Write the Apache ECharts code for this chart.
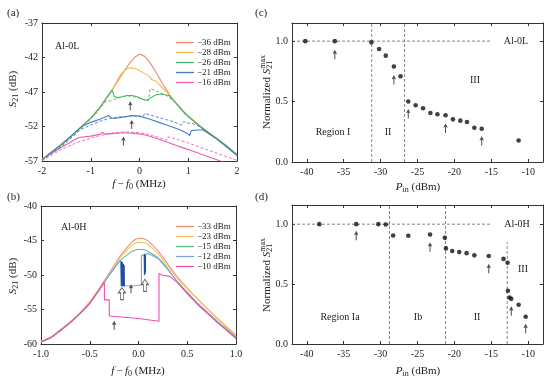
<!DOCTYPE html>
<html>
<head>
<meta charset="utf-8">
<script src="https://cdn.jsdelivr.net/npm/echarts@6/dist/echarts.min.js"></script>
<style>
  html, body { margin: 0; background: #fff; }
  #chart { width: 556px; height: 382px; }
</style>
</head>
<body>
<div id="chart"></div>
<script>
// ---- panel (a): Al-0L transmission, forward (solid) and reverse (dashed) sweeps
const f36 = [-2,-1.8,-1.6,-1.4,-1.2,-1.0,-0.9,-0.8,-0.7,-0.6,-0.5,-0.4,-0.3,-0.2,-0.1,0,0.1,0.2,0.3,0.4,0.5,0.6,0.7,0.8,0.9,1.0,1.2,1.4,1.6,1.8,2.0];
const s36 = [-56.8,-55.7,-54.6,-53.4,-52.1,-50.8,-50.0,-49.1,-48.1,-47.1,-46.0,-44.9,-43.8,-42.8,-42.0,-41.5,-41.8,-42.6,-43.7,-44.9,-46.1,-47.2,-48.2,-49.1,-49.9,-50.6,-51.8,-52.9,-53.9,-55.0,-56.2];
const f28 = [-2,-1.8,-1.6,-1.4,-1.2,-1.0,-0.9,-0.8,-0.7,-0.6,-0.5,-0.4,-0.3,-0.2,-0.1,0,0.1,0.2,0.25,0.33,0.4,0.5,0.6,0.7,0.8,0.9,1.0,1.2,1.4,1.6,1.8,2.0];
const s28 = [-56.8,-55.7,-54.6,-53.4,-52.1,-50.8,-50.0,-49.1,-48.1,-47.1,-45.9,-44.6,-43.8,-43.5,-43.6,-43.9,-44.3,-44.7,-45.2,-45.4,-45.9,-46.6,-47.3,-48.2,-49.0,-49.8,-50.5,-51.7,-52.8,-53.8,-54.9,-56.1];
const f26 = [-2,-1.8,-1.6,-1.4,-1.2,-1.0,-0.9,-0.8,-0.7,-0.6,-0.56,-0.52,-0.45,-0.35,-0.25,-0.15,-0.05,0.05,0.12,0.2,0.28,0.35,0.45,0.52,0.6,0.7,0.8,0.9,1.0,1.2,1.4,1.6,1.8,2.0];
const s26 = [-56.8,-55.7,-54.6,-53.4,-52.1,-50.8,-50.0,-49.1,-48.1,-47.1,-46.75,-47.6,-47.8,-47.7,-47.5,-47.5,-47.7,-48.0,-48.2,-48.0,-47.6,-47.4,-47.3,-47.4,-47.5,-48.2,-49.0,-49.8,-50.5,-51.7,-52.8,-53.8,-54.9,-56.1];
const f26r = [-2,-1.6,-1.2,-0.9,-0.7,-0.6,-0.5,-0.4,-0.3,-0.2,-0.1,0,0.1,0.18,0.22,0.3,0.4,0.48,0.55,0.7,0.9,1.2,1.6,2.0];
const s26r = [-56.9,-54.8,-52.3,-50.2,-48.4,-48.3,-48.0,-47.8,-47.6,-47.6,-47.7,-47.9,-48.1,-48.3,-46.5,-46.7,-47.0,-47.3,-47.5,-48.3,-49.9,-51.8,-53.9,-56.2];
const f21 = [-2,-1.6,-1.2,-1.15,-1.0,-0.8,-0.63,-0.58,-0.5,-0.3,-0.15,0,0.2,0.4,0.6,0.84,0.98,1.03,1.06,1.2,1.3,1.4,1.6,1.8,2.0];
const s21 = [-56.8,-54.6,-52.1,-51.9,-51.4,-50.9,-50.4,-50.8,-50.8,-50.6,-50.4,-50.5,-50.9,-51.4,-51.9,-52.5,-53.0,-53.3,-52.6,-52.5,-52.5,-52.9,-53.9,-55.0,-56.2];
const f21r = [-2,-1.6,-1.2,-1.0,-0.8,-0.6,-0.4,-0.2,0,0.08,0.1,0.3,0.5,0.7,0.86,0.9,1.0,1.1,1.2,1.4,1.6,1.8,2.0];
const s21r = [-56.9,-54.9,-52.4,-51.8,-51.2,-50.8,-50.6,-50.5,-50.5,-50.6,-50.1,-50.5,-50.9,-51.3,-51.8,-51.3,-51.5,-51.6,-51.9,-52.9,-53.9,-55.0,-56.2];
const f16 = [-2,-1.8,-1.6,-1.4,-1.25,-1.22,-1.0,-0.8,-0.76,-0.72,-0.5,-0.3,-0.1,0.1,0.3,0.5,0.7,0.9,1.1,1.3,1.5,1.7,2.0];
const s16 = [-56.8,-55.9,-55.0,-54.2,-53.6,-53.8,-53.4,-53.1,-52.8,-53.1,-53.0,-52.9,-53.0,-53.2,-53.6,-54.1,-54.6,-55.1,-55.6,-56.1,-56.6,-57.1,-57.8];
const f16r = [-2,-1.6,-1.2,-0.8,-0.6,-0.4,-0.2,0,0.2,0.4,0.56,0.58,0.8,1.0,1.2,1.4,1.6,1.8,2.0];
const s16r = [-57.0,-55.3,-54.1,-53.3,-53.0,-52.8,-52.8,-52.9,-53.2,-53.6,-54.0,-53.5,-53.9,-54.4,-54.9,-55.4,-55.9,-56.4,-56.9];
const arrowsA = [[-0.19, -49.0], [-0.16, -51.7], [-0.33, -54.1]];

// ---- panel (b): Al-0H transmission
const fB = [-1.0,-0.9,-0.8,-0.7,-0.6,-0.5,-0.4,-0.3,-0.2,-0.1,-0.05,0,0.05,0.1,0.2,0.3,0.4,0.5,0.6,0.7,0.8,0.9,1.0];
const b33 = [-59.6,-59.0,-57.9,-56.8,-55.5,-53.9,-51.9,-49.7,-47.5,-45.7,-45.0,-44.7,-44.7,-45.1,-46.5,-48.4,-50.3,-51.9,-53.4,-54.8,-56.2,-57.5,-58.8];
const b23 = [-59.6,-59.0,-57.9,-56.8,-55.5,-53.9,-52.0,-49.8,-47.7,-46.1,-45.5,-45.3,-45.3,-45.6,-46.9,-48.7,-50.5,-52.0,-53.4,-54.8,-56.1,-57.4,-58.7];
const b15 = [-59.7,-59.1,-58.0,-56.9,-55.6,-54.1,-52.1,-50.0,-48.1,-46.9,-46.5,-46.3,-46.3,-46.6,-47.5,-49.1,-51.0,-52.5,-54.0,-55.3,-56.6,-57.8,-59.0];
const fB12 = [-1.0,-0.9,-0.8,-0.7,-0.6,-0.5,-0.4,-0.3,-0.2,-0.185,-0.178,-0.14,-0.05,0.03,0.03,0.06,0.1,0.2,0.3,0.4,0.5,0.6,0.7,0.8,0.9,1.0];
const b12 = [-59.7,-59.1,-58.0,-56.9,-55.6,-54.1,-52.1,-50.0,-48.1,-47.8,-51.6,-51.6,-51.55,-51.45,-47.2,-47.0,-46.9,-47.6,-49.2,-51.0,-52.6,-54.1,-55.4,-56.7,-57.9,-59.1];
const fBandL = [-0.178,-0.175,-0.172,-0.168,-0.164,-0.16,-0.156,-0.152,-0.148,-0.144];
const sBandL = [-48.0,-51.5,-48.1,-51.6,-48.2,-51.6,-48.4,-51.6,-48.6,-51.6];
const fBandR = [0.058,0.061,0.064,0.067,0.07,0.073];
const sBandR = [-47.1,-50.0,-47.0,-49.8,-47.1,-49.6];
const fB10 = [-1.0,-0.9,-0.8,-0.7,-0.6,-0.5,-0.4,-0.35,-0.35,-0.30,-0.30,0.0,0.21,0.21,0.24,0.32,0.4,0.5,0.6,0.7,0.8,0.9,1.0];
const b10 = [-59.7,-59.1,-58.1,-56.9,-55.6,-54.1,-52.1,-51.0,-53.6,-53.6,-55.95,-56.3,-56.7,-49.8,-50.0,-50.2,-51.1,-52.7,-54.2,-55.5,-56.8,-58.0,-59.2];
const arrowsB = [[-0.077, -52.0], [-0.25, -57.3]];
const hollowB = [[-0.17, -52.7], [0.066, -51.5]];

// ---- panel (c): normalized S21 max vs input power, Al-0L
const pinC = [-40.2,-36.2,-31.25,-30.2,-29.3,-28.2,-27.3,-26.25,-25.25,-24.25,-23.25,-22.3,-21.2,-20.2,-19.2,-18.3,-17.3,-16.3,-11.3];
const normC = [1.0,1.0,0.99,0.935,0.88,0.79,0.71,0.50,0.47,0.445,0.405,0.395,0.387,0.353,0.342,0.331,0.283,0.275,0.178];
const boundsC = [-31.2, -26.75];
const unityEndC = -15;
const arrowsC = [[-36.2, 0.89], [-28.2, 0.68], [-26.25, 0.40], [-21.2, 0.28], [-16.3, 0.175]];

// ---- panel (d): Al-0H
const pinD = [-38.3,-33.3,-30.3,-29.3,-28.3,-26.25,-23.3,-21.3,-21.15,-20.3,-19.35,-18.35,-17.3,-15.35,-13.35,-12.8,-12.75,-12.55,-12.3,-11.3,-10.35];
const normD = [1.0,1.0,1.0,0.997,0.906,0.903,0.914,0.886,0.798,0.776,0.767,0.758,0.74,0.734,0.71,0.678,0.444,0.388,0.377,0.327,0.227];
const boundsD = [-28.8, -21.2, -12.85];
const boundTopsD = [1.16, 1.16, 0.85];
const unityEndD = -15.1;
const arrowsD = [[-33.3, 0.905], [-23.3, 0.81], [-15.35, 0.63], [-12.3, 0.275], [-10.35, 0.13]];

const legendA = ['\u221236 dBm', '\u221228 dBm', '\u221226 dBm', '\u221221 dBm', '\u221216 dBm'];
const legendB = ['\u221233 dBm', '\u221223 dBm', '\u221215 dBm', '\u221212 dBm', '\u221210 dBm'];
const pinTicks = [-40, -35, -30, -25, -20, -15, -10];
const normTicks = [0, 0.5, 1.0];

const FONT = '"Liberation Serif", "Times New Roman", serif';
const INK = '#222';
const AXIS = '#333';
const ARROW = 'path://M2,0 L4,4.6 L2.45,3.9 L2.45,10 L1.55,10 L1.55,3.9 L0,4.6 Z';
const HOLLOW = 'path://M5,0 L10,6 L7,6 L7,14 L3,14 L3,6 L0,6 Z';

const xy = (xs, ys) => xs.map((x, i) => [x, ys[i]]);

function xPair(gi, min, max, interval, fmt, custom) {
  const tick = { inside: true, length: 3, lineStyle: { color: AXIS } };
  const lab = { color: INK, fontFamily: FONT, fontSize: 10, margin: 5 };
  if (fmt) lab.formatter = fmt;
  if (custom) { tick.customValues = custom; lab.customValues = custom; }
  const base = { gridIndex: gi, type: 'value', min, max, splitLine: { show: false },
    axisLine: { onZero: false, lineStyle: { color: AXIS, width: 1 } } };
  if (interval) base.interval = interval;
  return [
    Object.assign({}, base, { position: 'bottom', axisTick: tick, axisLabel: lab }),
    Object.assign({}, base, { position: 'top', axisTick: tick, axisLabel: { show: false } })
  ];
}
function yPair(gi, min, max, interval, fmt, custom) {
  const tick = { inside: true, length: 3, lineStyle: { color: AXIS } };
  const lab = { color: INK, fontFamily: FONT, fontSize: 10, margin: 4 };
  if (fmt) lab.formatter = fmt;
  if (custom) { tick.customValues = custom; lab.customValues = custom; }
  const base = { gridIndex: gi, type: 'value', min, max, splitLine: { show: false },
    axisLine: { onZero: false, lineStyle: { color: AXIS, width: 1 } } };
  if (interval) base.interval = interval;
  return [
    Object.assign({}, base, { position: 'left', axisTick: tick, axisLabel: lab }),
    Object.assign({}, base, { position: 'right', axisTick: tick, axisLabel: { show: false } })
  ];
}

function line(name, gi, xs, ys, color, opt) {
  opt = opt || {};
  return {
    name, type: 'line', xAxisIndex: gi * 2, yAxisIndex: gi * 2,
    data: xy(xs, ys), symbol: 'none', smooth: opt.smooth || false,
    lineStyle: { color, width: opt.width || (opt.dashed ? 0.9 : 1.1), type: opt.dashed ? [3, 2] : 'solid' },
    itemStyle: { color }, z: opt.z || 3, silent: true
  };
}
function guide(gi, pts) {
  return { type: 'line', xAxisIndex: gi * 2, yAxisIndex: gi * 2, data: pts, symbol: 'none',
    lineStyle: { color: '#666', width: 0.8, type: [3, 2] }, z: 1, silent: true };
}
function arrows(gi, pts, size) {
  return { type: 'scatter', xAxisIndex: gi * 2, yAxisIndex: gi * 2, data: pts, symbol: ARROW,
    symbolSize: size, itemStyle: { color: '#222' }, z: 6, silent: true };
}
function dots(gi, xs, ys) {
  return { type: 'scatter', xAxisIndex: gi * 2, yAxisIndex: gi * 2, data: xy(xs, ys), symbol: 'circle',
    symbolSize: 4.6, itemStyle: { color: '#111' }, z: 5, silent: true };
}

// text with italic / sub / superscript pieces
const ctx2d = document.createElement('canvas').getContext('2d');
function label(cx, cy, parts, size, rot) {
  let x = 0, maxR = 0;
  const kids = [];
  for (const p of parts) {
    const fs = (p.sub || p.sup) ? Math.round(size * 0.7) : size;
    const font = (p.it ? 'italic ' : '') + fs + 'px ' + FONT;
    ctx2d.font = font;
    const w = ctx2d.measureText(p.t).width;
    const dy = p.sub ? size * 0.3 : p.sup ? -size * 0.38 : 0;
    kids.push({ type: 'text', x: x, y: dy, style: { text: p.t, font, fill: INK, align: 'left', verticalAlign: 'middle' } });
    maxR = Math.max(maxR, x + w);
    if (!p.hold) x += w;
  }
  kids.forEach(k => { k.x -= maxR / 2; });
  return { type: 'group', x: cx, y: cy, rotation: rot || 0, children: kids, silent: true };
}
function plain(x, y, t, size, align) {
  return { type: 'text', x, y, silent: true,
    style: { text: t, font: size + 'px ' + FONT, fill: INK, align: align || 'center', verticalAlign: 'middle' } };
}

const series = [
  line(legendA[0], 0, f36, s36, '#f2876a'),
  line(legendA[1], 0, f28, s28, '#f7b84e'),
  line(legendA[2], 0, f26, s26, '#46b46c'),
  line(legendA[3], 0, f21, s21, '#4a7cc6'),
  line(legendA[4], 0, f16, s16, '#ee5fb0'),
  line('rev26', 0, f26r, s26r, '#46b46c', { dashed: true }),
  line('rev21', 0, f21r, s21r, '#4a7cc6', { dashed: true }),
  line('rev16', 0, f16r, s16r, '#ee5fb0', { dashed: true }),
  arrows(0, arrowsA, [4.5, 9]),

  line(legendB[0], 1, fB, b33, '#f4906f', { smooth: 0.3 }),
  line(legendB[1], 1, fB, b23, '#f8c160', { smooth: 0.3 }),
  line(legendB[2], 1, fB, b15, '#5bbf86', { smooth: 0.3 }),
  line(legendB[3], 1, fB12, b12, '#7aa5de'),
  line('bandL', 1, fBandL, sBandL, '#1f4f9c', { width: 1 }),
  line('bandR', 1, fBandR, sBandR, '#1f4f9c', { width: 1 }),
  line(legendB[4], 1, fB10, b10, '#ee4fa6'),
  arrows(1, arrowsB, [4.5, 9]),
  { type: 'scatter', xAxisIndex: 2, yAxisIndex: 2, data: hollowB, symbol: HOLLOW, symbolSize: [7, 12],
    itemStyle: { color: '#fff', borderColor: '#444', borderWidth: 1 }, z: 6, silent: true },

  guide(2, [[-42, 1], [unityEndC, 1]]),
  ...boundsC.map(b => guide(2, [[b, 0], [b, 1.15]])),
  dots(2, pinC, normC),
  arrows(2, arrowsC, [4.5, 9.5]),

  guide(3, [[-42, 1], [unityEndD, 1]]),
  ...boundsD.map((b, i) => guide(3, [[b, 0], [b, boundTopsD[i]]])),
  dots(3, pinD, normD),
  arrows(3, arrowsD, [4.5, 9.5])
];

const legendBase = { orient: 'vertical', left: 171, itemWidth: 18, itemHeight: 1.3, itemGap: 0,
  icon: 'rect', selectedMode: false,
  textStyle: { fontFamily: FONT, fontSize: 9, lineHeight: 10, color: INK, padding: [0, 0, 0, -2] } };

const rot = Math.PI / 2;
const option = {
  animation: false,
  backgroundColor: '#fff',
  grid: [
    { left: 42, top: 23, width: 195, height: 138 },
    { left: 41, top: 206, width: 195, height: 138 },
    { left: 292, top: 23, width: 251, height: 139 },
    { left: 292, top: 205, width: 251, height: 139 }
  ],
  xAxis: [
    ...xPair(0, -2, 2, 1),
    ...xPair(1, -1, 1, 0.5, v => v.toFixed(1)),
    ...xPair(2, -42, -8, null, null, pinTicks),
    ...xPair(3, -42, -8, null, null, pinTicks)
  ],
  yAxis: [
    ...yPair(0, -57, -37, 5),
    ...yPair(1, -60, -40, 5),
    ...yPair(2, 0, 1.15, null, v => v.toFixed(1), normTicks),
    ...yPair(3, 0, 1.16, null, v => v.toFixed(1), normTicks)
  ],
  legend: [
    Object.assign({}, legendBase, { top: 32.5, data: legendA }),
    Object.assign({}, legendBase, { top: 216.5, data: legendB })
  ],
  series,
  graphic: [
    plain(7, 13, '(a)', 11, 'left'),
    plain(7, 197, '(b)', 11, 'left'),
    plain(255, 13, '(c)', 11, 'left'),
    plain(255, 197, '(d)', 11, 'left'),
    plain(55, 46, 'Al-0L', 10, 'left'),
    plain(61, 227, 'Al-0H', 10, 'left'),
    plain(516, 41, 'Al-0L', 10),
    plain(517, 224, 'Al-0H', 10),
    plain(333, 132, 'Region I', 10),
    plain(388, 132, 'II', 10),
    plain(475, 80, 'III', 10),
    plain(340, 317, 'Region Ia', 10),
    plain(418, 317, 'Ib', 10),
    plain(477, 317, 'II', 10),
    plain(523, 269, 'III', 10),
    label(139, 184, [{ t: 'f', it: true }, { t: '\u2009\u2212\u2009' }, { t: 'f', it: true }, { t: '0', sub: true }, { t: ' (MHz)' }], 11),
    label(138, 371, [{ t: 'f', it: true }, { t: '\u2009\u2212\u2009' }, { t: 'f', it: true }, { t: '0', sub: true }, { t: ' (MHz)' }], 11),
    label(418, 187, [{ t: 'P', it: true }, { t: 'in', sub: true }, { t: ' (dBm)' }], 11),
    label(418, 371, [{ t: 'P', it: true }, { t: 'in', sub: true }, { t: ' (dBm)' }], 11),
    label(13, 89, [{ t: 'S', it: true }, { t: '21', sub: true }, { t: ' (dB)' }], 11, rot),
    label(13, 276, [{ t: 'S', it: true }, { t: '21', sub: true }, { t: ' (dB)' }], 11, rot),
    label(267, 92, [{ t: 'Normalized ' }, { t: 'S', it: true }, { t: 'max', sup: true, hold: true }, { t: '21', sub: true }], 11, rot),
    label(267, 275, [{ t: 'Normalized ' }, { t: 'S', it: true }, { t: 'max', sup: true, hold: true }, { t: '21', sub: true }], 11, rot)
  ]
};

const chart = echarts.init(document.getElementById('chart'), null, { renderer: 'canvas' });
chart.setOption(option);
</script>
</body>
</html>
